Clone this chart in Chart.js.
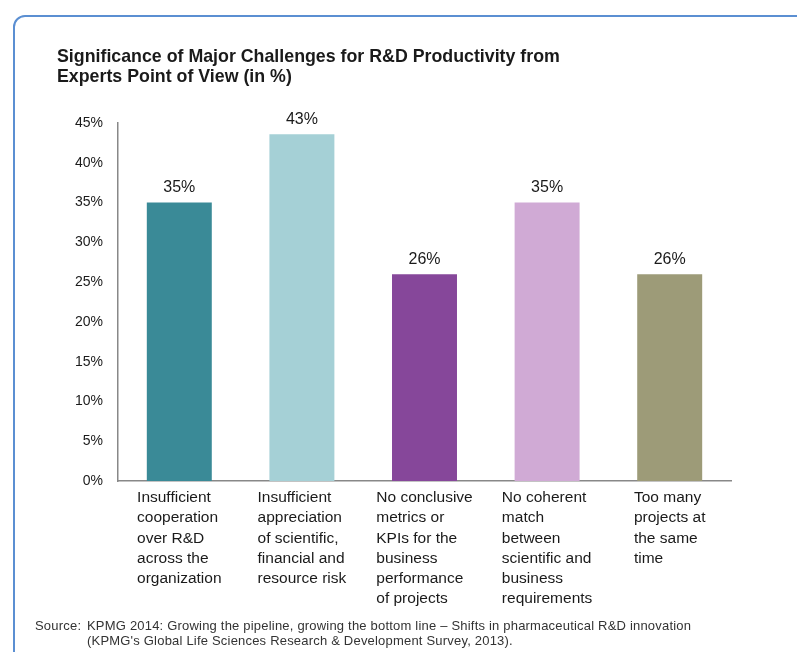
<!DOCTYPE html>
<html>
<head>
<meta charset="utf-8">
<script src="https://cdn.jsdelivr.net/npm/chart.js@4"></script>
<style>
  html, body { margin: 0; padding: 0; background: #fff; }
  body { width: 797px; height: 652px; position: relative; overflow: hidden; }
  #frame {
    position: absolute; left: 13px; top: 15px; width: 900px; height: 800px;
    border: 2.5px solid #5b8fd2; border-top-left-radius: 12px; box-sizing: border-box;
  }
  #myChart { position: absolute; left: 0; top: 0; }
  #source {
    position: absolute; left: 35px; top: 619px; font-family: Arial, "Liberation Sans", sans-serif;
    font-size: 13px; line-height: 14.5px; color: #333; letter-spacing: 0.2px;
  }
  #source .lbl { position: absolute; left: 0; }
  #source .txt { margin-left: 52px; white-space: nowrap; }
</style>
</head>
<body>
<div id="frame"></div>
<canvas id="myChart" width="797" height="652"></canvas>
<div id="source">
  <span class="lbl">Source:</span>
  <div class="txt">KPMG 2014: Growing the pipeline, growing the bottom line – Shifts in pharmaceutical R&amp;D innovation<br>(KPMG's Global Life Sciences Research &amp; Development Survey, 2013).</div>
</div>
<script>
// datos del grafico
const categories = [
  ['Insufficient', 'cooperation', 'over R&D', 'across the', 'organization'],
  ['Insufficient', 'appreciation', 'of scientific,', 'financial and', 'resource risk'],
  ['No conclusive', 'metrics or', 'KPIs for the', 'business', 'performance', 'of projects'],
  ['No coherent', 'match', 'between', 'scientific and', 'business', 'requirements'],
  ['Too many', 'projects at', 'the same', 'time']
];
const values = [35, 43.6, 26, 35, 26];
const valueLabels = ['35%', '43%', '26%', '35%', '26%'];
const barColors = ['#3a8a97', '#a5d0d6', '#86479a', '#d0aad5', '#9d9b78'];
const yTicks = [0, 5, 10, 15, 20, 25, 30, 35, 40, 45];

const FONT = 'Arial, "Liberation Sans", sans-serif';

// etiquetas encima de las barras y debajo del eje x
const labelsPlugin = {
  id: 'labelsPlugin',
  afterDatasetsDraw(chart) {
    const ctx = chart.ctx;
    const meta = chart.getDatasetMeta(0);
    const xScale = chart.scales.x;
    ctx.save();
    ctx.fillStyle = '#1a1a1a';
    ctx.textBaseline = 'middle';
    ctx.font = '16px ' + FONT;
    ctx.textAlign = 'center';
    meta.data.forEach((bar, i) => {
      ctx.fillText(valueLabels[i], bar.x, bar.y - 15);
    });
    ctx.textAlign = 'left';
    ctx.font = '15.5px ' + FONT;
    categories.forEach((lines, i) => {
      const cx = xScale.getPixelForValue(i);
      const w = Math.max(...lines.map(l => ctx.measureText(l).width));
      lines.forEach((l, j) => {
        ctx.fillText(l, cx - w / 2, xScale.top + 17 + j * 20.2);
      });
    });
    ctx.restore();
  }
};

const config = {
  type: 'bar',
  data: {
    labels: categories.map(c => c.join(' ')),
    datasets: [{
      data: values,
      backgroundColor: barColors,
      barPercentage: 0.53,
      categoryPercentage: 1.0
    }]
  },
  options: {
    responsive: false,
    animation: false,
    layout: { padding: { left: 57, top: 45, right: 66, bottom: 171 } },
    plugins: {
      legend: { display: false },
      tooltip: { enabled: false },
      title: {
        display: true,
        align: 'start',
        text: ['Significance of Major Challenges for R&D Productivity from', 'Experts Point of View (in %)'],
        color: '#1a1a1a',
        font: { family: FONT, size: 17.8, weight: 'bold', lineHeight: 20 / 17.8 },
        padding: { top: 2, bottom: 36 }
      }
    },
    scales: {
      x: {
        grid: { display: false, drawTicks: false },
        ticks: { display: false },
        border: { display: true, color: '#888', width: 1.5 }
      },
      y: {
        min: 0,
        max: 45,
        afterBuildTicks: (scale) => { scale.ticks = yTicks.map(v => ({ value: v })); },
        afterFit: (scale) => { scale.width = 61; },
        grid: { display: false, drawTicks: false },
        border: { display: true, color: '#888', width: 1.5 },
        ticks: {
          padding: 15,
          color: '#1a1a1a',
          font: { family: FONT, size: 14 },
          callback: (v) => v + '%'
        }
      }
    }
  },
  plugins: [labelsPlugin]
};

const myChart = new Chart(document.getElementById('myChart'), config);
</script>
</body>
</html>
